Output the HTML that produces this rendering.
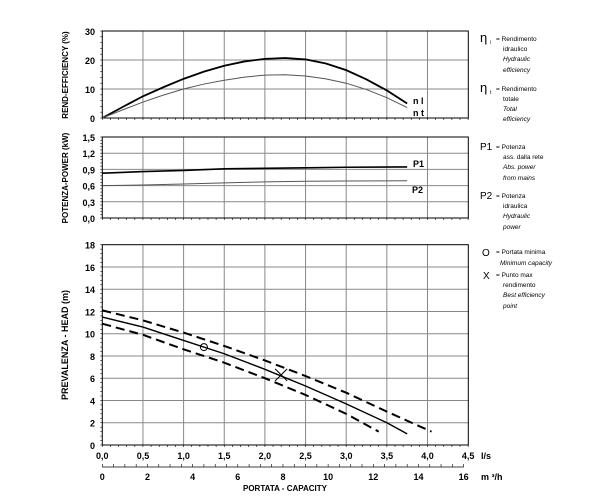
<!DOCTYPE html>
<html><head><style>body{margin:0;background:#fff}svg{display:block;font-family:"Liberation Sans",sans-serif}</style></head>
<body>
<svg id="s" width="600" height="500" xmlns="http://www.w3.org/2000/svg"></svg>
<script>
const s=document.getElementById('s');let h='';
const X=v=>102.3+v*81.3;
const x0=102.3,x1=468.3;
function panel(top,bot,vmax,step,labels,minorN){
  const Y=v=>bot-(v/vmax)*(bot-top);
  for(let i=1;i<9;i++)h+=`<line x1="${X(i*0.5)}" y1="${top}" x2="${X(i*0.5)}" y2="${bot}" stroke="#888" stroke-width="1"/>`;
  labels.forEach((l,i)=>{const y=Y(i*step);if(i>0&&i<labels.length-1)h+=`<line x1="${x0}" y1="${y}" x2="${x1}" y2="${y}" stroke="#888"/>`;
    h+=`<text x="95" y="${y+4}" font-size="9" font-weight="bold" text-anchor="end">${l}</text>`;});
  h+=`<rect x="${x0}" y="${top}" width="${x1-x0}" height="${bot-top}" fill="none" stroke="#000"/>`;
  const n=(labels.length-1)*minorN;for(let i=0;i<=n;i++){const y=bot-i*(bot-top)/n;h+=`<line x1="${x0-2}" y1="${y}" x2="${x0}" y2="${y}" stroke="#000" stroke-width=".6"/>`;}
  for(let i=0;i<=45;i++)h+=`<line x1="${X(i*0.1)}" y1="${bot}" x2="${X(i*0.1)}" y2="${bot+2}" stroke="#000" stroke-width=".6"/>`;
  return Y;
}
function path(pts,Y,attr){h+=`<polyline fill="none" points="${pts.map(p=>X(p[0])+','+Y(p[1])).join(' ')}" ${attr}/>`;}
// efficiency
let Y=panel(31,118,30,10,['0','10','20','30'],5);
path([[0,0],[0.25,3.8],[0.5,7.5],[0.75,10.6],[1,13.5],[1.25,16],[1.5,18],[1.75,19.5],[2,20.4],[2.25,20.7],[2.5,20.2],[2.75,18.8],[3,16.5],[3.25,13.3],[3.5,9.5],[3.75,5]],Y,'stroke="#000" stroke-width="1.8"');
path([[0,0],[0.25,2.8],[0.5,5.5],[0.75,7.9],[1,10],[1.25,11.7],[1.5,13],[1.75,14.1],[2,14.8],[2.25,14.9],[2.5,14.5],[2.75,13.5],[3,12],[3.25,9.8],[3.5,7],[3.75,3.6]],Y,'stroke="#555" stroke-width="1"');
h+=`<text x="413" y="104" font-size="9" font-weight="bold">n l</text><text x="413" y="116" font-size="9" font-weight="bold">n t</text>`;
h+=`<text transform="translate(68,75) rotate(-90)" font-size="8" font-weight="bold" text-anchor="middle">REND-EFFICIENCY (%)</text>`;
// power
Y=panel(137,218,1.5,0.3,['0,0','0,3','0,6','0,9','1,2','1,5'],5);
path([[0,0.83],[0.5,0.86],[1,0.88],[1.5,0.91],[2,0.92],[2.5,0.93],[3,0.94],[3.75,0.945]],Y,'stroke="#000" stroke-width="1.6"');
path([[0,0.6],[0.5,0.61],[1,0.63],[1.5,0.65],[2,0.67],[2.5,0.68],[3,0.685],[3.75,0.69]],Y,'stroke="#555" stroke-width="1"');
h+=`<text x="413" y="167" font-size="9" font-weight="bold">P1</text><text x="412" y="193" font-size="9" font-weight="bold">P2</text>`;
h+=`<text transform="translate(68,178) rotate(-90)" font-size="8" font-weight="bold" text-anchor="middle">POTENZA-POWER (kW)</text>`;
// head
Y=panel(244.7,445,18,2,['0','2','4','6','8','10','12','14','16','18'],5);
path([[0,11.5],[0.5,10.6],[1,9.4],[1.5,8.2],[2,6.8],[2.5,5.3],[3,3.7],[3.5,2.0],[3.75,1.0]],Y,'stroke="#000" stroke-width="1.4"');
path([[0,12.1],[0.5,11.2],[1,10.1],[1.5,8.9],[2,7.6],[2.5,6.2],[3,4.7],[3.5,3.0],[4.05,1.2]],Y,'stroke="#000" stroke-width="2" stroke-dasharray="9,5"');
path([[0,10.9],[0.5,9.9],[1,8.6],[1.5,7.4],[2,6.0],[2.5,4.5],[3,2.8],[3.4,1.2]],Y,'stroke="#000" stroke-width="2" stroke-dasharray="9,5"');
h+=`<circle cx="${X(1.25)}" cy="${Y(8.8)}" r="3.5" fill="none" stroke="#000"/>`;
const bx=X(2.2),by=Y(6.3);h+=`<path d="M${bx-6} ${by-6}L${bx+6} ${by+6}M${bx-6} ${by+6}L${bx+6} ${by-6}" stroke="#000"/>`;
h+=`<text transform="translate(68,345) rotate(-90)" font-size="9" font-weight="bold" text-anchor="middle">PREVALENZA -  HEAD (m)</text>`;
['0,0','0,5','1,0','1,5','2,0','2,5','3,0','3,5','4,0','4,5'].forEach((l,i)=>h+=`<text x="${X(i*0.5)}" y="459" font-size="9" font-weight="bold" text-anchor="middle">${l}</text>`);
h+=`<text x="481" y="459" font-size="9" font-weight="bold">l/s</text>`;
const M=v=>102.3+v/3.6*81.3;
h+=`<line x1="${M(0)}" y1="467" x2="${M(16)}" y2="467" stroke="#000" stroke-width=".8"/>`;
for(let i=0;i<=32;i++)h+=`<line x1="${M(i*0.5)}" y1="464" x2="${M(i*0.5)}" y2="467" stroke="#000" stroke-width=".6"/>`;
for(let i=0;i<=8;i++)h+=`<text x="${M(i*2)}" y="480" font-size="9" font-weight="bold" text-anchor="middle">${i*2}</text>`;
h+=`<text x="481" y="480" font-size="9" font-weight="bold">m ³/h</text>`;
h+=`<text x="285" y="491" font-size="8" font-weight="bold" text-anchor="middle">PORTATA - CAPACITY</text>`;
// legend
const L=(x,y,t,it)=>h+=`<text x="${x}" y="${y}" font-size="6.5"${it?' font-style="italic"':''}>${t}</text>`;
h+=`<text x="480" y="42" font-size="13">η</text><text x="490" y="44" font-size="5">i</text>`;L(496,41,'= Rendimento');L(503,51,'idraulico');L(503,61,'Hydraulic',1);L(503,72,'efficiency',1);
h+=`<text x="480" y="92" font-size="13">η</text><text x="490" y="94" font-size="5">t</text>`;L(496,91,'= Rendimento');L(503,101,'totale');L(503,111,'Total',1);L(503,121,'efficiency',1);
h+=`<text x="480" y="150" font-size="10">P1</text>`;L(496,149,'= Potenza');L(503,159,'ass. dalla rete');L(503,169,'Abs. power',1);L(503,180,'from mains',1);
h+=`<text x="480" y="199" font-size="10">P2</text>`;L(496,198,'= Potenza');L(503,208,'idraulica');L(503,218,'Hydraulic',1);L(503,229,'power',1);
h+=`<text x="482" y="256" font-size="10">O</text>`;L(496,254,'= Portata minima');L(500,265,'Minimum capacity',1);
h+=`<text x="483" y="279" font-size="10">X</text>`;L(496,277,'= Punto max');L(503,287,'rendimento');L(503,297,'Best efficiency',1);L(503,308,'point',1);
s.innerHTML=h;
</script>
</body></html>
